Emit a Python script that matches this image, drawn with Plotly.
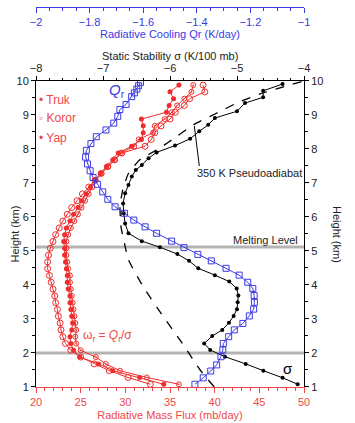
import plotly.graph_objects as go

RED = "#f02c2c"
RED_TXT = "#f04848"
BLUE = "#3a3ae6"
BLACK = "#000000"

# ---- Radiative mass flux (mb/day) by station ----
h_red = [1.08, 1.28, 1.48, 1.68, 1.88, 2.08, 2.28, 2.48, 2.68, 2.88, 3.08, 3.28, 3.48, 3.68, 3.88,
         4.08, 4.28, 4.48, 4.68, 4.88, 5.08, 5.28, 5.48, 5.68, 5.88, 6.08, 6.28, 6.48, 6.68, 6.88,
         7.08, 7.28, 7.48, 7.68, 7.88, 8.08, 8.28, 8.48, 8.68, 8.88, 9.08, 9.28, 9.48, 9.68, 9.88]
koror = [32.8, 30.3, 28.2, 26.5, 25.0, 23.9, 23.3, 23.0, 22.8, 22.7, 22.5, 22.4, 22.2, 22.1, 21.9,
         21.7, 21.5, 21.3, 21.3, 21.4, 21.6, 21.9, 22.2, 22.6, 23.0, 23.5, 24.0, 24.6, 25.2, 25.9,
         26.6, 27.3, 28.0, 28.8, 29.6, 32.2, 32.9, 33.3, 34.0, 35.0, 35.6, 36.6, 37.2, 38.9, 38.7]
truk = [34.3, 31.6, 28.6, 27.0, 24.9, 24.2, 23.9, 23.8, 24.0, 24.1, 24.0, 23.9, 23.8, 23.8, 23.6,
        23.5, 23.5, 23.4, 23.3, 23.2, 23.2, 23.1, 23.2, 23.4, 23.8, 24.2, 24.7, 25.1, 25.6, 26.1,
        26.6, 27.2, 27.9, 28.6, 29.2, 30.7, 31.8, 32.0, 32.0, 31.8, 34.6, 34.9, 35.4, 35.0, 36.0]
yap = [36.0, 32.4, 29.4, 27.8, 26.7, 25.0, 24.5, 24.4, 24.5, 24.4, 24.3, 24.2, 24.1, 24.0, 23.9,
       23.8, 23.8, 23.6, 23.5, 23.4, 23.4, 23.4, 23.6, 23.9, 24.3, 24.7, 25.1, 25.5, 25.9, 26.3,
       26.7, 27.3, 28.1, 28.8, 29.5, 31.0, 31.5, 33.1, 33.3, 34.4, 35.2, 35.8, 36.6, 37.4, 37.6]

# ---- Radiative cooling Qr (K/day) ----
h_qr = [1.08, 1.27, 1.47, 1.65, 1.89, 2.09, 2.28, 2.48, 2.68, 2.87, 3.09, 3.29, 3.49, 3.69, 3.90,
        4.08, 4.29, 4.49, 4.71, 4.90, 5.10, 5.29, 5.52, 5.71, 5.91, 6.11, 6.30, 6.52, 6.74, 6.96,
        7.16, 7.36, 7.56, 7.76, 7.96, 8.16, 8.36, 8.56, 8.76, 8.96, 9.16, 9.31, 9.54, 9.65, 9.76,
        9.86, 9.96]
qr = [-1.407, -1.376, -1.348, -1.326, -1.310, -1.303, -1.301, -1.281, -1.260, -1.228, -1.204, -1.188,
      -1.185, -1.186, -1.191, -1.210, -1.242, -1.291, -1.346, -1.396, -1.448, -1.494, -1.550, -1.593,
      -1.635, -1.670, -1.705, -1.732, -1.751, -1.770, -1.787, -1.798, -1.808, -1.815, -1.812, -1.795,
      -1.775, -1.739, -1.710, -1.695, -1.687, -1.664, -1.643, -1.633, -1.624, -1.617, -1.610]

# ---- Static stability sigma (K/100 mb) ----
h_sig = [1.08, 1.27, 1.48, 1.68, 1.89, 2.09, 2.28, 2.50, 2.68, 2.89, 3.09, 3.29, 3.49, 3.69, 3.90,
         4.10, 4.29, 4.49, 4.71, 4.91, 5.11, 5.29, 5.52, 5.81, 6.11, 6.40, 6.70, 6.94, 7.19, 7.38,
         7.53, 7.73, 7.90, 8.10, 8.30, 8.52, 8.71, 8.91, 9.11, 9.35, 9.52, 9.71, 9.91]
sigma = [-4.094, -4.32, -4.607, -4.87, -5.18, -5.40, -5.49, -5.37, -5.22, -5.12, -5.05, -5.00, -4.99,
         -4.98, -5.005, -5.115, -5.33, -5.578, -5.716, -5.89, -6.15, -6.42, -6.62, -6.67, -6.69, -6.70,
         -6.67, -6.62, -6.57, -6.51, -6.42, -6.32, -6.20, -5.925, -5.70, -5.563, -5.43, -5.33, -5.00,
         -4.88, -4.61, -4.61, -4.32]

# ---- 350 K pseudoadiabat sigma ----
h_pa = [1.00, 1.50, 2.09, 2.38, 3.07, 3.95, 4.74, 5.23, 5.71, 6.30, 6.79, 7.28, 7.68, 8.03, 8.37,
        8.71, 9.03, 9.35, 9.62, 10.0]
sig_pa = [-5.34, -5.55, -5.75, -5.85, -6.10, -6.40, -6.62, -6.68, -6.731, -6.746, -6.706, -6.62, -6.45,
          -6.149, -5.90, -5.652, -5.328, -5.005, -4.657, -4.00]

fig = go.Figure()

fig.add_trace(go.Scatter(x=qr, y=h_qr, xaxis="x3", yaxis="y", mode="lines+markers",
                         line=dict(color=BLUE, width=1),
                         marker=dict(symbol="square-open", size=6, color=BLUE, line=dict(width=1)),
                         showlegend=False))
fig.add_trace(go.Scatter(x=sig_pa, y=h_pa, xaxis="x2", yaxis="y", mode="lines",
                         line=dict(color=BLACK, width=1.3, dash="dash", shape="spline", smoothing=0.5),
                         showlegend=False))
fig.add_trace(go.Scatter(x=sigma, y=h_sig, xaxis="x2", yaxis="y", mode="lines+markers",
                         line=dict(color=BLACK, width=1),
                         marker=dict(symbol="circle", size=4, color=BLACK),
                         showlegend=False))
fig.add_trace(go.Scatter(x=koror, y=h_red, xaxis="x", yaxis="y", mode="lines+markers",
                         line=dict(color=RED, width=1),
                         marker=dict(symbol="circle-open", size=6, color=RED, line=dict(width=1)),
                         showlegend=False))
fig.add_trace(go.Scatter(x=yap, y=h_red, xaxis="x", yaxis="y", mode="lines+markers",
                         line=dict(color=RED, width=1),
                         marker=dict(symbol="circle-open-dot", size=5, color=RED, line=dict(width=1)),
                         showlegend=False))
fig.add_trace(go.Scatter(x=truk, y=h_red, xaxis="x", yaxis="y", mode="lines+markers",
                         line=dict(color=RED, width=1),
                         marker=dict(symbol="circle", size=5, color=RED),
                         showlegend=False))
fig.add_trace(go.Scatter(x=[None], y=[None], xaxis="x", yaxis="y2", showlegend=False,
                         hoverinfo="skip"))

FONT = "Liberation Sans, Arial, sans-serif"

for yv in [2.0, 5.12]:
    fig.add_shape(type="line", xref="paper", yref="y", x0=0, x1=1, y0=yv, y1=yv,
                  line=dict(color="#b4b4b4", width=3), layer="below")

fig.add_shape(type="line", xref="x", yref="y", x0=38.28, y0=7.5, x1=37.72, y1=8.68,
              line=dict(color=BLACK, width=1))

ann = []
ann.append(dict(x=29.07, y=9.71, xref="x", yref="y", text="<i>Q</i><sub>r</sub>", showarrow=False,
                font=dict(color=BLUE, size=15, family=FONT)))
ann.append(dict(x=48.21, y=1.53, xref="x", yref="y", text="σ", showarrow=False,
                font=dict(color=BLACK, size=15, family=FONT)))
ann.append(dict(x=28.0, y=2.49, xref="x", yref="y", text="ω<sub>r</sub> = <i>Q</i><sub>r</sub>/σ",
                showarrow=False, font=dict(color=RED_TXT, size=12, family=FONT)))
ann.append(dict(x=49.55, y=5.32, xref="x", yref="y", text="Melting Level", showarrow=False,
                xanchor="right", font=dict(color="#222222", size=11, family=FONT)))
ann.append(dict(x=37.8, y=7.30, xref="x", yref="y", text="350 K Pseudoadiabat", showarrow=False,
                xanchor="left", font=dict(color="#222222", size=11, family=FONT)))
ann.append(dict(x=20.1, y=9.44, xref="x", yref="y", text="• Truk", showarrow=False,
                xanchor="left", font=dict(color=RED_TXT, size=12, family=FONT)))
ann.append(dict(x=20.1, y=8.91, xref="x", yref="y", text="◦ Koror", showarrow=False,
                xanchor="left", font=dict(color=RED_TXT, size=12, family=FONT)))
ann.append(dict(x=20.1, y=8.32, xref="x", yref="y", text="• Yap", showarrow=False,
                xanchor="left", font=dict(color=RED_TXT, size=12, family=FONT)))
ann.append(dict(x=1.153, y=0.4026, xref="paper", yref="paper", text="Height (km)", showarrow=False,
                textangle=90, font=dict(color="#222222", size=11, family=FONT)))
ann.append(dict(x=-0.11, y=0.4026, xref="paper", yref="paper", text="Height (km)", showarrow=False,
                textangle=-90, font=dict(color="#222222", size=11, family=FONT)))
ann.append(dict(x=0.5, y=0.892, xref="paper", yref="paper", text="Static Stability σ (K/100 mb)",
                showarrow=False, font=dict(color="#222222", size=11, family=FONT)))

TOP = 0.8053

common = dict(showgrid=False, zeroline=False, showline=True, linewidth=1, automargin=False)

fig.update_layout(
    width=355, height=423,
    margin=dict(l=36, r=51, t=7, b=36, autoexpand=False),
    paper_bgcolor="white", plot_bgcolor="white",
    font=dict(family=FONT, size=11, color="#222222"),
    showlegend=False,
    annotations=ann,
    xaxis=dict(range=[20, 50], domain=[0, 1], anchor="y", side="bottom", linecolor=RED_TXT,
               ticks="outside", ticklen=5, tickcolor=RED_TXT, dtick=5,
               minor=dict(dtick=1, ticks="outside", ticklen=3, tickcolor=RED_TXT),
               tickfont=dict(color=RED_TXT, size=11),
               title=dict(text="Radiative Mass Flux (mb/day)", font=dict(color=RED_TXT, size=11),
                          standoff=4), **common),
    xaxis2=dict(range=[-8, -4], overlaying="x", anchor="y", side="top", linecolor=BLACK,
                ticks="outside", ticklen=4, tickcolor=BLACK, dtick=1,
                minor=dict(dtick=0.2, ticks="outside", ticklen=2, tickcolor=BLACK),
                tickfont=dict(color="#222222", size=11), **common),
    xaxis3=dict(range=[-2, -1], overlaying="x", anchor="free", position=1.0, side="bottom",
                linecolor=BLUE, ticks="outside", ticklen=5, tickcolor=BLUE, dtick=0.2,
                minor=dict(dtick=0.05, ticks="outside", ticklen=3, tickcolor=BLUE),
                tickfont=dict(color=BLUE, size=11),
                title=dict(text="Radiative Cooling Qr (K/day)", font=dict(color=BLUE, size=11),
                           standoff=2), **common),
    yaxis=dict(range=[1, 10], domain=[0, TOP], anchor="x", linecolor=BLACK,
               ticks="outside", ticklen=4, tickcolor=BLACK, dtick=1,
               minor=dict(dtick=0.5, ticks="outside", ticklen=3, tickcolor=BLACK),
               tickfont=dict(color="#222222", size=11), **common),
    yaxis2=dict(range=[1, 10], overlaying="y", side="right", anchor="x", matches="y",
                linecolor=BLACK, ticks="outside", ticklen=4, tickcolor=BLACK, dtick=1,
                minor=dict(dtick=0.5, ticks="outside", ticklen=3, tickcolor=BLACK),
                tickfont=dict(color="#222222", size=11), **common),
)

fig.write_html("out.html")
